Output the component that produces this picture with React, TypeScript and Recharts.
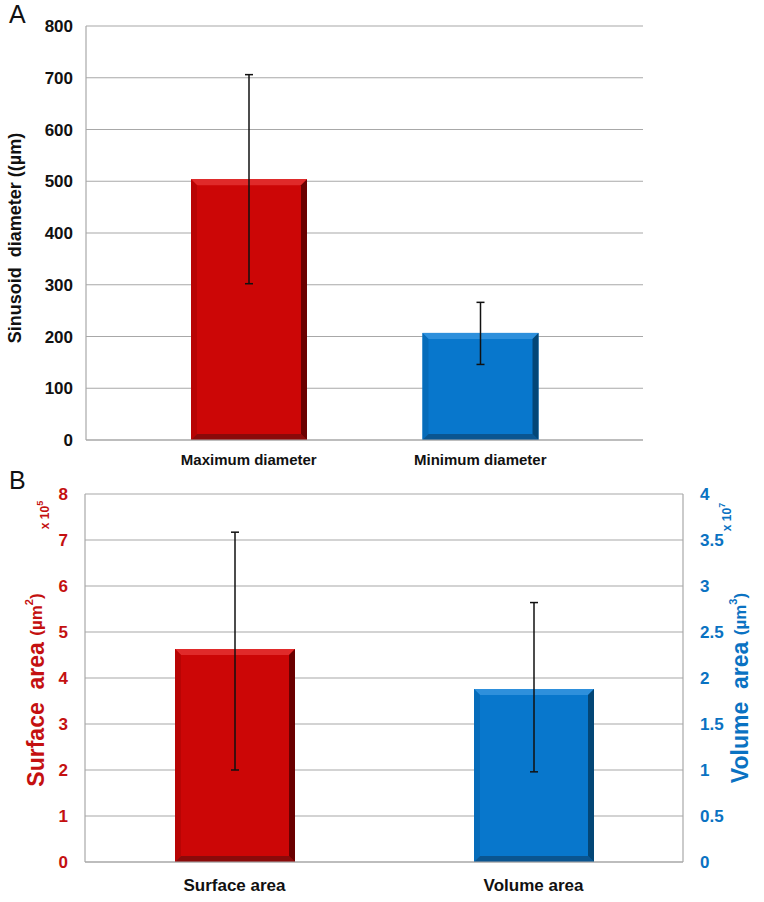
import React from 'react';
import { BarChart, Bar, XAxis, YAxis, CartesianGrid, ErrorBar, Cell } from 'recharts';

// panel A
const diameterCats = ['Maximum diameter', 'Minimum diameter'];
const diameterMeans = [504, 207];
const diameterErr = [[202, 202], [61, 59]]; // [down, up]
const diameterTicks = [0, 100, 200, 300, 400, 500, 600, 700, 800];

// panel B
const areaCats = ['Surface area', 'Volume area'];
const surfaceMean = 4.63; // x 10^5
const surfaceErr = [2.63, 2.54];
const volumeMean = 1.88; // x 10^7
const volumeErr = [0.9, 0.94];
const surfaceTicks = [0, 1, 2, 3, 4, 5, 6, 7, 8];
const volumeTicks = [0, 0.5, 1, 1.5, 2, 2.5, 3, 3.5, 4];

const FONT = '"Liberation Sans", Arial, sans-serif';
const GRID = '#a8a8a8';
const RED = '#cc0606';
const BLUE = '#0877cc';
const RED_TXT = '#c41010';
const BLUE_TXT = '#0a72c2';

const shades: Record<string, { top: string; side: string; bottom: string; left: string }> = {
  [RED]: { top: '#e02a2a', side: '#6a0000', bottom: '#8a0a0a', left: '#b80404' },
  [BLUE]: { top: '#2e90dc', side: '#034676', bottom: '#0a5590', left: '#066cba' },
};

const diameterData = diameterCats.map((name, i) => ({
  name,
  mean: diameterMeans[i],
  err: diameterErr[i],
}));

const areaData = areaCats.map((name, i) => ({
  name,
  surface: i === 0 ? surfaceMean : null,
  surfaceErr: i === 0 ? surfaceErr : undefined,
  volume: i === 1 ? volumeMean : null,
  volumeErr: i === 1 ? volumeErr : undefined,
}));

const BevelBar = (props: any) => {
  const { x, y, width: w, height: h, fill } = props;
  if (!h || h <= 0 || x == null) return null;
  const b = 6;
  const s = shades[fill] || shades[RED];
  return (
    <g>
      <rect x={x} y={y} width={w} height={h} fill={fill} />
      <polygon points={`${x},${y} ${x + w},${y} ${x + w - b},${y + b} ${x + b},${y + b}`} fill={s.top} />
      <polygon points={`${x},${y} ${x + b},${y + b} ${x + b},${y + h - b} ${x},${y + h}`} fill={s.left} />
      <polygon points={`${x},${y + h} ${x + b},${y + h - b} ${x + w - b},${y + h - b} ${x + w},${y + h}`} fill={s.bottom} />
      <polygon points={`${x + w},${y} ${x + w},${y + h} ${x + w - b},${y + h - b} ${x + w - b},${y + b}`} fill={s.side} />
    </g>
  );
};

const barColors = [RED, BLUE];

export default function App() {
  return (
    <div style={{ position: 'absolute', left: 0, top: 0, width: 764, height: 902, background: '#fff', fontFamily: FONT }}>
      <div style={{ position: 'absolute', left: 0, top: 0 }}>
        <BarChart width={764} height={475} data={diameterData} margin={{ top: 26, right: 121, left: 0, bottom: 0 }}>
          <CartesianGrid vertical={false} stroke={GRID} strokeWidth={1.2} />
          <XAxis
            dataKey="name"
            height={35}
            interval={0}
            padding={{ left: 47, right: 47 }}
            tickLine={false}
            tickSize={0}
            tickMargin={14}
            axisLine={{ stroke: GRID, strokeWidth: 1.2 }}
            tick={{ fill: '#111', fontSize: 15, fontWeight: 700, fontFamily: FONT }}
          />
          <YAxis
            width={86}
            domain={[0, 800]}
            ticks={diameterTicks}
            interval={0}
            tickLine={false}
            tickSize={0}
            tickMargin={13}
            axisLine={{ stroke: GRID, strokeWidth: 1.2 }}
            tick={{ fill: '#111', fontSize: 17, fontWeight: 700, fontFamily: FONT }}
          />
          <Bar dataKey="mean" barSize={116} shape={BevelBar} isAnimationActive={false}>
            {diameterData.map((d, i) => (
              <Cell key={d.name} fill={barColors[i]} />
            ))}
            <ErrorBar dataKey="err" direction="y" width={4} stroke="#111" strokeWidth={1.5} />
          </Bar>
        </BarChart>
      </div>

      <div style={{ position: 'absolute', left: 0, top: 460 }}>
        <BarChart width={764} height={442} data={areaData} margin={{ top: 34, right: 0, left: 0, bottom: 0 }}>
          <CartesianGrid vertical={false} stroke={GRID} strokeWidth={1.2} xAxisId="a" yAxisId="left" />
          <XAxis
            xAxisId="a"
            dataKey="name"
            height={40}
            interval={0}
            tickLine={false}
            tickSize={0}
            tickMargin={17}
            axisLine={{ stroke: GRID, strokeWidth: 1.2 }}
            tick={{ fill: '#111', fontSize: 17, fontWeight: 700, fontFamily: FONT }}
          />
          <XAxis xAxisId="b" dataKey="name" hide />
          <YAxis
            yAxisId="left"
            width={85}
            domain={[0, 8]}
            ticks={surfaceTicks}
            interval={0}
            tickLine={false}
            tickSize={0}
            tickMargin={17}
            axisLine={{ stroke: GRID, strokeWidth: 1.2 }}
            tick={{ fill: RED_TXT, fontSize: 17, fontWeight: 700, fontFamily: FONT }}
          />
          <YAxis
            yAxisId="right"
            orientation="right"
            width={81}
            domain={[0, 4]}
            ticks={volumeTicks}
            interval={0}
            tickLine={false}
            tickSize={0}
            tickMargin={17}
            axisLine={{ stroke: GRID, strokeWidth: 1.2 }}
            tick={{ fill: BLUE_TXT, fontSize: 17, fontWeight: 700, fontFamily: FONT }}
          />
          <Bar xAxisId="a" yAxisId="left" dataKey="surface" barSize={120} fill={RED} shape={BevelBar} isAnimationActive={false}>
            <ErrorBar dataKey="surfaceErr" direction="y" width={4} stroke="#111" strokeWidth={1.5} />
          </Bar>
          <Bar xAxisId="b" yAxisId="right" dataKey="volume" barSize={120} fill={BLUE} shape={BevelBar} isAnimationActive={false}>
            <ErrorBar dataKey="volumeErr" direction="y" width={4} stroke="#111" strokeWidth={1.5} />
          </Bar>
        </BarChart>
      </div>

      {/* panel letters and axis titles */}
      <svg width={764} height={902} style={{ position: 'absolute', left: 0, top: 0, pointerEvents: 'none' }}>
        <text x={9} y={23} fontSize={25} fill="#111" fontFamily={FONT}>A</text>
        <text x={9} y={489} fontSize={25} fill="#111" fontFamily={FONT}>B</text>

        <text
          transform="translate(15,238) rotate(-90)"
          textAnchor="middle"
          dominantBaseline="central"
          fontSize={18}
          fontWeight={700}
          fill="#111"
          fontFamily={FONT}
          style={{ whiteSpace: 'pre' }}
        >
          Sinusoid  diameter ((µm)
        </text>

        <text
          transform="translate(36,690) rotate(-90)"
          textAnchor="middle"
          dominantBaseline="central"
          fontWeight={700}
          fill={RED_TXT}
          fontFamily={FONT}
          style={{ whiteSpace: 'pre' }}
        >
          <tspan fontSize={23}>Surface  area </tspan>
          <tspan fontSize={17}>(µm</tspan>
          <tspan fontSize={11} dy={-7}>2</tspan>
          <tspan fontSize={17} dy={7}>)</tspan>
        </text>
        <text
          transform="translate(45,515) rotate(-90)"
          textAnchor="middle"
          dominantBaseline="central"
          fontWeight={700}
          fill={RED_TXT}
          fontFamily={FONT}
        >
          <tspan fontSize={12}>x 10</tspan>
          <tspan fontSize={9} dy={-5}>5</tspan>
        </text>

        <text
          transform="translate(740,688) rotate(-90)"
          textAnchor="middle"
          dominantBaseline="central"
          fontWeight={700}
          fill={BLUE_TXT}
          fontFamily={FONT}
          style={{ whiteSpace: 'pre' }}
        >
          <tspan fontSize={23}>Volume  area </tspan>
          <tspan fontSize={17}>(µm</tspan>
          <tspan fontSize={11} dy={-7}>3</tspan>
          <tspan fontSize={17} dy={7}>)</tspan>
        </text>
        <text
          transform="translate(727,517) rotate(-90)"
          textAnchor="middle"
          dominantBaseline="central"
          fontWeight={700}
          fill={BLUE_TXT}
          fontFamily={FONT}
        >
          <tspan fontSize={12}>x 10</tspan>
          <tspan fontSize={9} dy={-5}>7</tspan>
        </text>
      </svg>
    </div>
  );
}
